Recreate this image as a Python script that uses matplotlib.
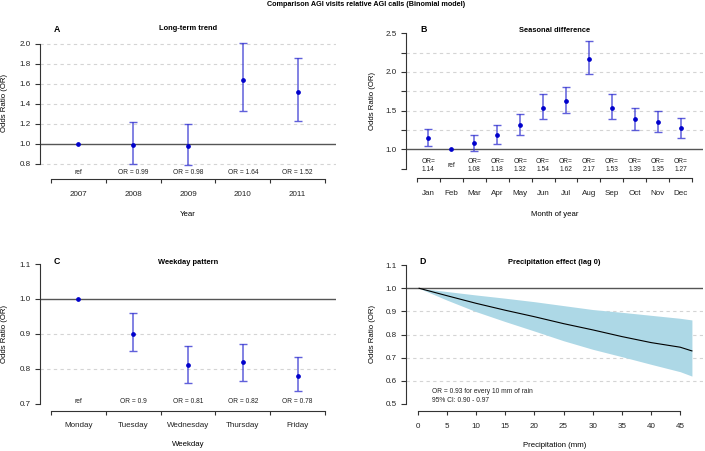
import numpy as np
import matplotlib.pyplot as plt

W, H = 705, 451
plt.rcParams['font.family'] = ['Liberation Sans', 'DejaVu Sans']

# A - long-term trend
years = ['2007', '2008', '2009', '2010', '2011']
year_or = [1.00, 0.99, 0.98, 1.64, 1.52]
year_lo = [np.nan, 0.80, 0.79, 1.33, 1.23]
year_hi = [np.nan, 1.22, 1.20, 2.01, 1.86]
year_txt = ['ref', 'OR = 0.99', 'OR = 0.98', 'OR = 1.64', 'OR = 1.52']

# B - seasonal difference
months = ['Jan', 'Feb', 'Mar', 'Apr', 'May', 'Jun', 'Jul', 'Aug', 'Sep', 'Oct', 'Nov', 'Dec']
month_or = [1.14, 1.00, 1.08, 1.18, 1.32, 1.54, 1.62, 2.17, 1.53, 1.39, 1.35, 1.27]
month_lo = [1.04, np.nan, 0.98, 1.07, 1.19, 1.39, 1.47, 1.97, 1.39, 1.25, 1.22, 1.15]
month_hi = [1.26, np.nan, 1.18, 1.31, 1.46, 1.71, 1.81, 2.40, 1.71, 1.53, 1.50, 1.40]
month_txt = ['OR=\n1.14', 'ref', 'OR=\n1.08', 'OR=\n1.18', 'OR=\n1.32', 'OR=\n1.54',
             'OR=\n1.62', 'OR=\n2.17', 'OR=\n1.53', 'OR=\n1.39', 'OR=\n1.35', 'OR=\n1.27']

# C - weekday pattern
days = ['Monday', 'Tuesday', 'Wednesday', 'Thursday', 'Friday']
day_or = [1.00, 0.90, 0.81, 0.82, 0.78]
day_lo = [np.nan, 0.85, 0.76, 0.765, 0.735]
day_hi = [np.nan, 0.96, 0.865, 0.87, 0.835]
day_txt = ['ref', 'OR = 0.9', 'OR = 0.81', 'OR = 0.82', 'OR = 0.78']

# D - precipitation effect
rain_mm = [0.25, 5, 10, 15, 20, 25, 30, 35, 40, 45, 47]
rain_or = [1.0, 0.968, 0.935, 0.905, 0.877, 0.847, 0.820, 0.791, 0.765, 0.745, 0.729]
rain_hi = [1.0, 0.986, 0.971, 0.957, 0.942, 0.925, 0.908, 0.896, 0.883, 0.870, 0.863]
rain_lo = [1.0, 0.949, 0.899, 0.856, 0.815, 0.773, 0.736, 0.704, 0.671, 0.639, 0.620]

AXC = '#333333'
PT = 100 / 72.0   # pixels per point


def ftext(x, y, s, **kw):
    # place text in pixel coords of the figure
    fig.text(x / W, 1 - y / H, s, **kw)


def make_panel(box, xlim, ylim, ybounds, yticks, grid):
    l, t, r, b = box
    ax = fig.add_axes([l / W, 1 - b / H, (r - l) / W, (b - t) / H])
    ax.set_xlim(xlim)
    ax.set_ylim(ylim)
    ax.patch.set_alpha(0)
    for s in ['top', 'right']:
        ax.spines[s].set_visible(False)
    for s in ['left', 'bottom']:
        ax.spines[s].set_color(AXC)
        ax.spines[s].set_linewidth(0.8)
    ax.spines['left'].set_bounds(*ybounds)
    ax.set_yticks(yticks)
    ax.tick_params(axis='y', length=5 / PT, width=0.8, color=AXC, pad=3, labelsize=5.8, labelcolor='#222222')
    for g in grid:
        ax.axhline(g, color='#d4d4d4', lw=0.8, ls=(0, (3, 3)), zorder=0)
    ax.axhline(1.0, color='#555555', lw=1.0, zorder=1)
    return ax


def cat_axis(ax, labels):
    n = len(labels)
    ax.spines['bottom'].set_bounds(-0.5, n - 0.5)
    ax.set_xticks(np.arange(n + 1) - 0.5)
    ax.set_xticklabels([])
    ax.set_xticks(np.arange(n), minor=True)
    ax.set_xticklabels(labels, minor=True)
    ax.tick_params(axis='x', which='major', length=4 / PT, width=0.8, color=AXC)
    ax.tick_params(axis='x', which='minor', length=0, pad=8.2, labelsize=5.8, labelcolor='#222222')


def or_plot(ax, est, lo, hi):
    x = np.arange(len(est))
    est = np.array(est)
    lo = np.array(lo)
    hi = np.array(hi)
    m = ~np.isnan(lo)
    ax.errorbar(x[m], est[m], yerr=[est[m] - lo[m], hi[m] - est[m]], fmt='none',
                ecolor='#3838d2', elinewidth=1.1, capsize=2.6, capthick=1.0, alpha=0.8, zorder=2)
    ax.plot(x, est, 'o', ms=2.4, color='#0000cc', zorder=3)


fig = plt.figure(figsize=(W / 100, H / 100), dpi=100)

ftext(366, 5, 'Comparison AGI visits relative AGI calls (Binomial model)',
      ha='center', va='center', fontsize=5.2, fontweight='bold')

# ---- A
axA = make_panel((40, 30, 336, 179.3), (-0.7, 4.7), (0.647, 2.14), (0.8, 2.0),
                 np.arange(0.8, 2.01, 0.2), [0.8, 1.2, 1.4, 1.6, 1.8, 2.0])
axA.set_yticklabels(['%.1f' % v for v in np.arange(0.8, 2.01, 0.2)])
cat_axis(axA, years)
or_plot(axA, year_or, year_lo, year_hi)
for i, s in enumerate(year_txt):
    axA.text(i, 0.717, s, ha='center', va='center', fontsize=4.8, color='#222222')
ftext(57, 29, 'A', ha='center', va='center', fontsize=6.3, fontweight='bold')
ftext(188, 29, 'Long-term trend', ha='center', va='center', fontsize=5.4, fontweight='bold')
ftext(5, 103, 'Odds Ratio (OR)', rotation=90, ha='center', va='center', fontsize=5.6)
ftext(188, 214.3, 'Year', ha='center', va='center', fontsize=5.6)

# ---- B
axB = make_panel((406, 30, 703, 178.3), (-0.98, 11.98), (0.625, 2.543), (0.75, 2.5),
                 [1.0, 1.5, 2.0, 2.5], [1.25, 1.5, 1.75, 2.0, 2.25])
axB.set_yticklabels(['1.0', '1.5', '2.0', '2.5'])
axB.set_yticks([0.75, 1.25, 1.75, 2.25], minor=True)
axB.tick_params(axis='y', which='minor', length=5 / PT, width=0.8, color=AXC)
cat_axis(axB, months)
or_plot(axB, month_or, month_lo, month_hi)
for i, s in enumerate(month_txt):
    axB.text(i, 0.79, s, ha='center', va='center', fontsize=4.8, color='#222222', linespacing=1.1)
ftext(424, 30, 'B', ha='center', va='center', fontsize=6.3, fontweight='bold')
ftext(554.5, 30, 'Seasonal difference', ha='center', va='center', fontsize=5.4, fontweight='bold')
ftext(372.5, 101, 'Odds Ratio (OR)', rotation=90, ha='center', va='center', fontsize=5.6)
ftext(554.5, 214.3, 'Month of year', ha='center', va='center', fontsize=5.6)

# ---- C
axC = make_panel((40, 258, 336, 411), (-0.7, 4.7), (0.679, 1.1175), (0.7, 1.1),
                 np.arange(0.7, 1.11, 0.1), [0.8, 0.9])
axC.set_yticklabels(['%.1f' % v for v in np.arange(0.7, 1.11, 0.1)])
cat_axis(axC, days)
or_plot(axC, day_or, day_lo, day_hi)
for i, s in enumerate(day_txt):
    axC.text(i, 0.706, s, ha='center', va='center', fontsize=4.8, color='#222222')
ftext(57, 262, 'C', ha='center', va='center', fontsize=6.3, fontweight='bold')
ftext(188, 262, 'Weekday pattern', ha='center', va='center', fontsize=5.4, fontweight='bold')
ftext(5, 334, 'Odds Ratio (OR)', rotation=90, ha='center', va='center', fontsize=5.6)
ftext(188, 445, 'Weekday', ha='center', va='center', fontsize=5.6)

# ---- D
axD = make_panel((406, 258, 703, 411), (-2.0, 48.9), (0.469, 1.131), (0.5, 1.1),
                 np.arange(0.5, 1.11, 0.1), [0.6, 0.7, 0.8, 0.9])
axD.set_yticklabels(['%.1f' % v for v in np.arange(0.5, 1.11, 0.1)])
axD.spines['bottom'].set_bounds(0, 45)
axD.set_xticks(np.arange(0, 46, 5))
axD.tick_params(axis='x', length=4 / PT, width=0.8, color=AXC, pad=5.6, labelsize=5.8, labelcolor='#222222')
axD.fill_between(rain_mm, rain_lo, rain_hi, color='#add8e6', lw=0, zorder=1.5)
axD.plot(rain_mm, rain_or, color='black', lw=0.8, zorder=2)
axD.text(2.5, 0.552, 'OR = 0.93 for every 10 mm of rain', ha='left', va='center', fontsize=4.8, color='#222222')
axD.text(2.5, 0.513, '95% CI: 0.90 - 0.97', ha='left', va='center', fontsize=4.8, color='#222222')
ftext(423, 262, 'D', ha='center', va='center', fontsize=6.3, fontweight='bold')
ftext(554.5, 262, 'Precipitation effect (lag 0)', ha='center', va='center', fontsize=5.4, fontweight='bold')
ftext(372, 334, 'Odds Ratio (OR)', rotation=90, ha='center', va='center', fontsize=5.6)
ftext(554.5, 445.5, 'Precipitation (mm)', ha='center', va='center', fontsize=5.6)

fig.savefig('out.png', dpi=100)
